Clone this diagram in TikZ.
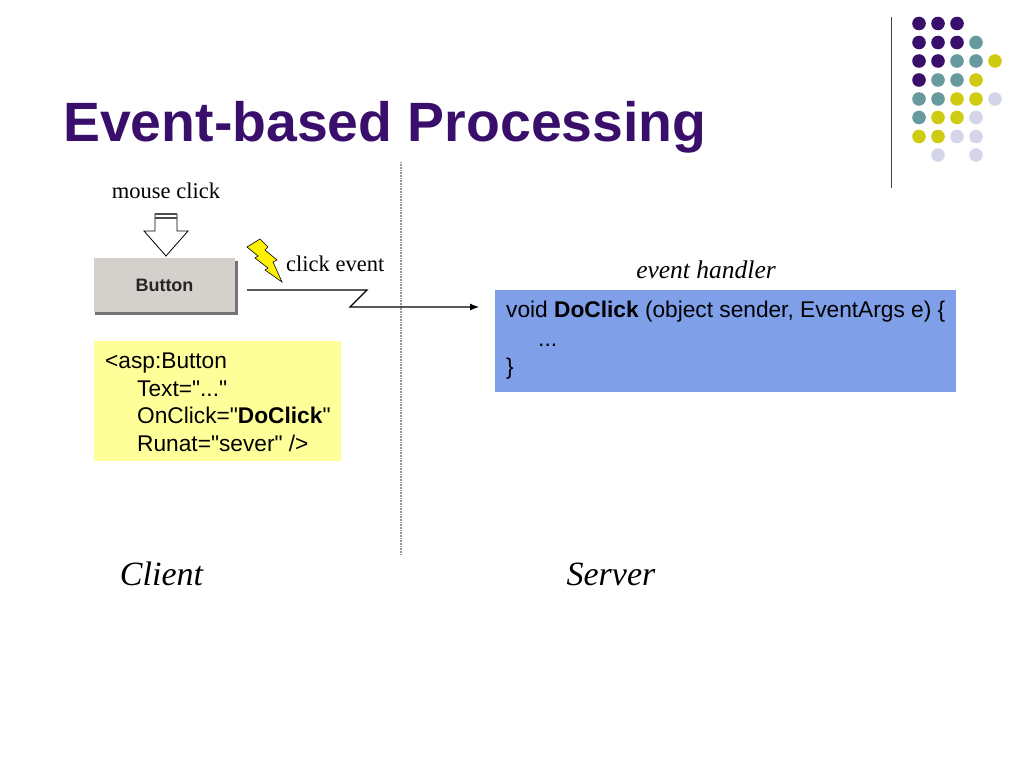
\documentclass[tikz,border=0pt]{standalone}
\usepackage{fontspec}
\usetikzlibrary{arrows.meta}
\setmainfont{Liberation Serif}
\setsansfont{Liberation Sans}[Ligatures=TeXOff]
\definecolor{dotpurple}{HTML}{3A0F6B}
\definecolor{dotteal}{HTML}{669A9E}
\definecolor{dotyellow}{HTML}{CFCB12}
\definecolor{dotlilac}{HTML}{D5D5EA}
\definecolor{titlepurple}{HTML}{3A0F6B}
\definecolor{codeyellow}{HTML}{FFFF99}
\definecolor{codeblue}{HTML}{7F9FE8}
\definecolor{buttongray}{HTML}{D4D0CC}
\tikzset{
	codetext/.style={inner sep=0pt,anchor=north west,align=left,text=black,font=\sffamily\fontsize{22.7}{27.4}\selectfont},
	serifnote/.style={inner sep=0pt,font=\fontsize{22.5}{26}\selectfont},
	sidelabel/.style={inner sep=0pt,font=\itshape\fontsize{34}{38}\selectfont}
}
\begin{document}
\begin{tikzpicture}[x=1pt,y=-1pt]
	\useasboundingbox (0,0) rectangle (1024,768);
	
	% title and corner decoration
	\node[inner sep=0pt,anchor=west,text=titlepurple,font=\sffamily\bfseries\fontsize{55.4}{60}\selectfont] (title) at (63,127.5) {Event-based Processing};
	\draw[line width=1.3pt,black!75] (891.5,17) -- (891.5,188);
	\foreach \x in {919,938,957} \fill[dotpurple] (\x,23.5) circle [radius=6.8];
	\foreach \x in {919,938,957} \fill[dotpurple] (\x,42.5) circle [radius=6.8];
	\fill[dotteal] (976,42.5) circle [radius=6.8];
	\foreach \x in {919,938} \fill[dotpurple] (\x,61) circle [radius=6.8];
	\foreach \x in {957,976} \fill[dotteal] (\x,61) circle [radius=6.8];
	\fill[dotyellow] (995,61) circle [radius=6.8];
	\fill[dotpurple] (919,80) circle [radius=6.8];
	\foreach \x in {938,957} \fill[dotteal] (\x,80) circle [radius=6.8];
	\fill[dotyellow] (976,80) circle [radius=6.8];
	\foreach \x in {919,938} \fill[dotteal] (\x,99) circle [radius=6.8];
	\foreach \x in {957,976} \fill[dotyellow] (\x,99) circle [radius=6.8];
	\fill[dotlilac] (995,99) circle [radius=6.8];
	\fill[dotteal] (919,117.5) circle [radius=6.8];
	\foreach \x in {938,957} \fill[dotyellow] (\x,117.5) circle [radius=6.8];
	\fill[dotlilac] (976,117.5) circle [radius=6.8];
	\foreach \x in {919,938} \fill[dotyellow] (\x,136.5) circle [radius=6.8];
	\foreach \x in {957,976} \fill[dotlilac] (\x,136.5) circle [radius=6.8];
	\foreach \x in {938,976} \fill[dotlilac] (\x,155) circle [radius=6.8];
	
	% client / server divider
	\draw[line width=1.5pt,black!40,dash pattern=on 1pt off 0.6pt] (401,162) -- (401,555);
	
	% button with mouse arrow
	\node[serifnote] (mouseclick) at (166,191) {mouse click};
	\fill[black!55] (95,261) rectangle (237.5,315);
	\node[fill=buttongray,minimum width=141pt,minimum height=54pt,inner sep=0pt,text=black!85,font=\sffamily\bfseries\fontsize{18}{20}\selectfont] (button) at (164.5,285) {\raisebox{-1pt}{Button}};
	\draw[line width=0.8pt,fill=white] (155,214) -- (177,214) -- (177,231) -- (188,231) -- (166,256) -- (144,231) -- (155,231) -- cycle;
	\draw[line width=1.6pt,black!70] (155,214) -- (177,214);
	\draw[line width=1.4pt,black!70] (155,218) -- (177,218);
	
	% lightning bolt and event line
	\draw[line width=0.6pt,fill=yellow] (260,239) -- (247,247) -- (258,256) -- (255,258) -- (268,268) -- (265,270) -- (282,282) -- (273,262) -- (277,260) -- (265,250) -- (268,247) -- cycle;
	\node[serifnote,anchor=west] (clickevent) at (286,264) {click event};
	\coordinate (linestart) at (247,290);
	\coordinate (linebendA) at (367,290);
	\coordinate (linebendB) at (350,307);
	\coordinate (lineend) at (479,307);
	\draw[line width=1.1pt,-{Latex[length=9pt,width=7pt]}] (linestart) -- (linebendA) -- (linebendB) -- (lineend);
	
	% code boxes
	\fill[codeyellow] (94,341) rectangle (341,461);
	\node[codetext] (aspbutton) at (105,353) {<asp:Button\\
		\hspace{32pt}Text="..."\\
		\hspace{32pt}OnClick="\textbf{DoClick}"\\
		\hspace{32pt}Runat="sever" />};
	\node[serifnote,anchor=center,font=\itshape\fontsize{25.5}{28}\selectfont] (eventhandler) at (706,270) {event handler};
	\fill[codeblue] (495,290) rectangle (956,392);
	\node[codetext,font=\sffamily\fontsize{22.7}{28.5}\selectfont] (doclick) at (506,301) {void \textbf{DoClick} (object sender, EventArgs e) \{\\
		\hspace{32pt}...\\
		\}};
	
	% side labels
	\node[sidelabel] (client) at (161.5,574) {Client};
	\node[sidelabel] (server) at (611,574) {Server};
\end{tikzpicture}
\end{document}
